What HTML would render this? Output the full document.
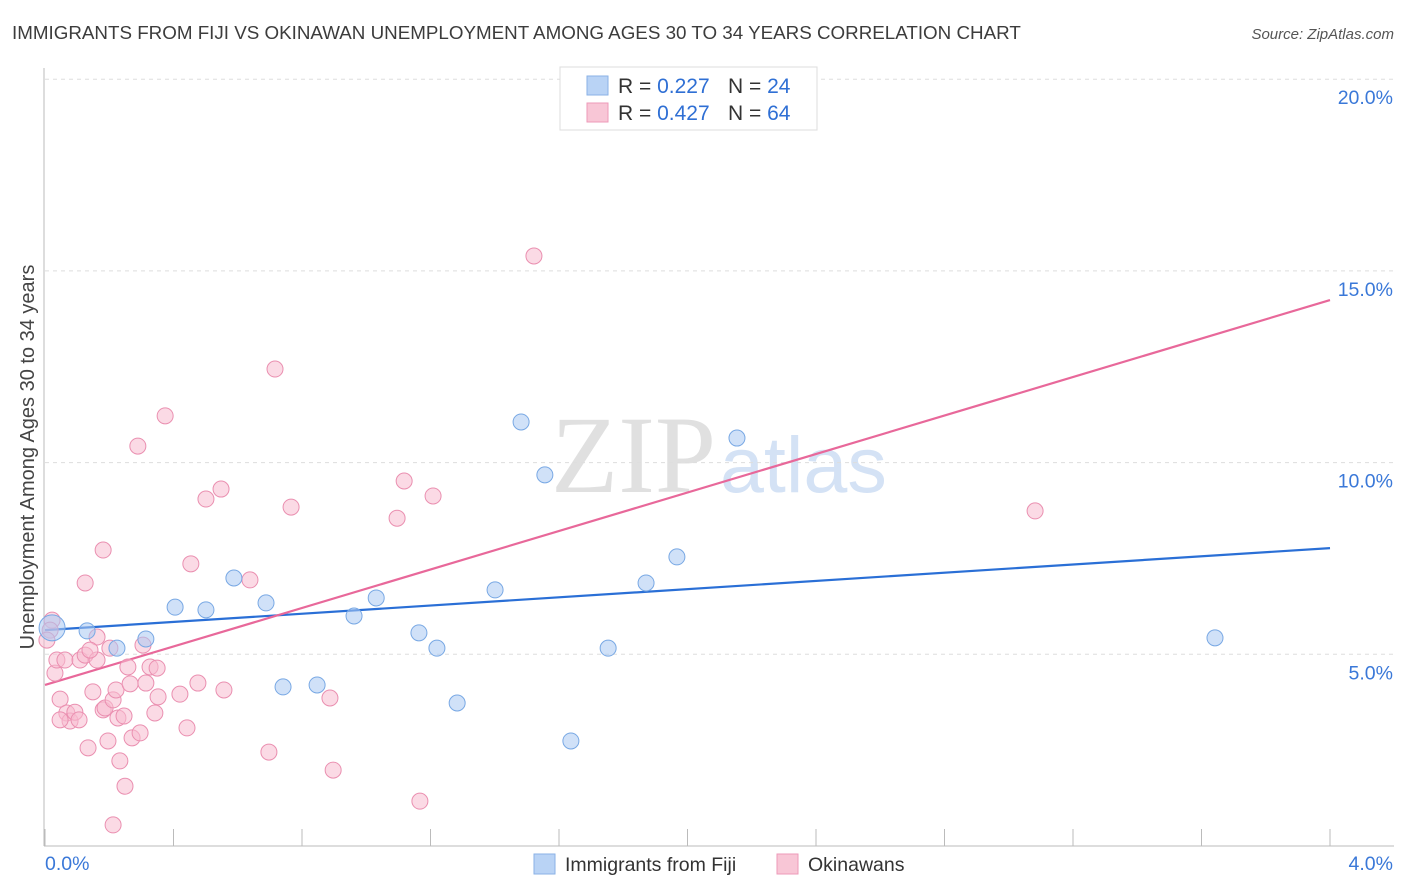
<!DOCTYPE html>
<html><head><meta charset="utf-8"><style>
body{margin:0;background:#fff;font-family:"Liberation Sans",sans-serif;}
#wrap{position:relative;width:1406px;height:892px;overflow:hidden;}
</style></head><body>
<div id="wrap">
<svg id="svg" width="1406" height="892" xmlns="http://www.w3.org/2000/svg">
<text x="12" y="39" font-size="18.8" fill="#3c3c3c">IMMIGRANTS FROM FIJI VS OKINAWAN UNEMPLOYMENT AMONG AGES 30 TO 34 YEARS CORRELATION CHART</text>
<text x="1394" y="39" font-size="15" fill="#555" font-style="italic" text-anchor="end">Source: ZipAtlas.com</text>
<text x="716" y="492" font-size="110" fill="#e0e0e0" font-family="Liberation Serif,serif" text-anchor="end">ZIP</text>
<text x="720" y="492" font-size="79" fill="#d4e2f5" text-anchor="start">atlas</text>
<text transform="translate(34,457) rotate(-90)" font-size="20" fill="#444" text-anchor="middle">Unemployment Among Ages 30 to 34 years</text>
<g id="grid"></g><g id="lines"></g><g id="pts"></g>
<g>
<rect x="560" y="67" width="257" height="63" fill="#fff" stroke="#ddd"/>
<rect x="587" y="76" width="21" height="19" fill="#b9d3f5" stroke="#8ab2e6"/>
<rect x="587" y="103" width="21" height="19" fill="#f8c6d6" stroke="#ee9ab8"/>
<text x="618" y="93" font-size="21" fill="#333">R = <tspan fill="#2f6fd4">0.227</tspan><tspan x="728">N = </tspan><tspan fill="#2f6fd4">24</tspan></text>
<text x="618" y="120" font-size="21" fill="#333">R = <tspan fill="#2f6fd4">0.427</tspan><tspan x="728">N = </tspan><tspan fill="#2f6fd4">64</tspan></text>
</g>
<g>
<rect x="534" y="854" width="21" height="20" fill="#b9d3f5" stroke="#8ab2e6"/>
<text x="565" y="871" font-size="19.5" fill="#333">Immigrants from Fiji</text>
<rect x="777" y="854" width="21" height="20" fill="#f8c6d6" stroke="#ee9ab8"/>
<text x="808" y="871" font-size="19.5" fill="#333">Okinawans</text>
</g>
</svg></div>
<script>
const blueX=[.022,.131,.224,.314,.405,.501,.588,.688,.741,.847,.962,1.031,1.164,1.220,1.283,1.401,1.482,1.556,1.637,1.753,1.871,1.967,2.154,3.642];
const blueY=[5.69,5.61,5.16,5.40,6.23,6.16,6.99,6.34,4.15,4.20,6.00,6.47,5.56,5.16,3.73,6.68,11.06,9.68,2.74,5.16,6.86,7.54,10.64,5.43];
const pinkX=[.022,.016,.031,.037,.047,.062,.068,.078,.093,.109,.125,.134,.149,.162,.181,.181,.187,.196,.212,.221,.227,.233,.249,.258,.265,.271,.212,.289,.296,.305,.314,.327,.342,.349,.352,.374,.420,.442,.454,.476,.501,.548,.557,.638,.697,.716,.766,.887,.897,1.096,1.118,1.167,1.208,1.522,3.082,.125,.162,.140,.202,.106,.246,.047,.006];
const pinkY=[5.89,5.63,4.51,4.85,3.83,4.85,3.47,3.26,3.49,4.85,6.86,2.56,4.02,5.45,7.72,3.55,3.60,2.74,3.81,4.07,3.34,2.22,1.56,4.67,4.23,2.82,0.55,10.43,2.95,5.24,4.25,4.67,3.47,4.64,3.89,11.22,3.96,3.08,7.36,4.25,9.05,9.31,4.07,6.94,2.45,12.44,8.84,3.86,1.98,8.55,9.52,1.17,9.13,15.39,8.74,4.98,4.85,5.11,5.16,3.29,3.39,3.29,5.37];
const lineStart=[5.63,4.20];
const lineEnd=[7.77,14.24];
const yTicks=[5,10,15,20];
const xTickLabels=["0.0%","4.0%"];
const NS="http://www.w3.org/2000/svg";
const X=v=>45+v/4*1285, Y=v=>846-v/5*191.7;
function mk(t,a,p){const e=document.createElementNS(NS,t);for(const k in a)e.setAttribute(k,a[k]);p.appendChild(e);return e;}
const g=document.getElementById('grid');
yTicks.forEach(t=>{
 const l=mk('line',{x1:45,x2:1394,y1:Y(t),y2:Y(t),stroke:'#ddd','stroke-dasharray':'4,4'},g);
 
 
 const tx=mk('text',{x:1393,y:Y(t)+25,'font-size':19.5,fill:'#3a78d8','text-anchor':'end'},g);
 tx.textContent=t.toFixed(1)+'%';
 
 
});
const ax=mk('line',{x1:44,x2:44,y1:68,y2:846,stroke:'#bbb'},g);


const bx=mk('line',{x1:44,x2:1394,y1:846,y2:846,stroke:'#bbb'},g);


for(let i=0;i<=10;i++){const t=mk('line',{x1:X(i*0.4),x2:X(i*0.4),y1:829,y2:846,stroke:'#bbb'},g);
 
 }
[[0,'start',45],[4,'end',1393]].forEach((d,i)=>{const t=mk('text',{x:d[2],y:870,'font-size':19.5,fill:'#3a78d8','text-anchor':d[1]},g);t.textContent=xTickLabels[i];
 
 });
const pg=document.getElementById('pts');
function pts(xs,ys,fill,stroke,name){xs.forEach((x,i)=>{const c=mk('circle',{cx:X(x),cy:Y(ys[i]),r:(name==='fiji-point'&&i===0)?13:8,fill:fill,'fill-opacity':0.55,stroke:stroke,'stroke-width':1},pg);
 
 });}
pts(pinkX,pinkY,'#f8bcd0','#ea8fb0','okinawan-point');
pts(blueX,blueY,'#aac9f2','#78a8e4','fiji-point');
const lg=document.getElementById('lines');
const cols=['#2a6fd6','#e8689a'];
[0,1].forEach(i=>{const l=mk('line',{x1:X(0),y1:Y(lineStart[i]),x2:X(4),y2:Y(lineEnd[i]),stroke:cols[i],'stroke-width':2.2},lg);
 
 });
</script>
</body></html>
